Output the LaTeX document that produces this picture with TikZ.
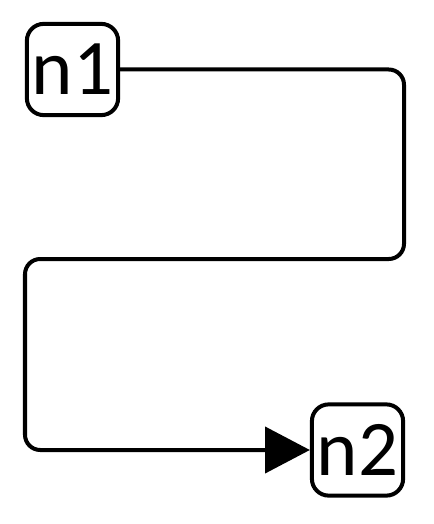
\documentclass[tikz,border=0pt]{standalone}
\usepackage{fontspec}
\setmainfont{Carlito}
\usetikzlibrary{arrows.meta}
\begin{document}
\begin{tikzpicture}[
    x=0.025cm, y=-0.025cm,
    box/.style={rectangle, draw=black, line width=0.1cm, rounded corners=0.42cm, minimum width=2.28cm, minimum height=2.28cm, inner sep=0pt, align=center, font=\fontsize{56}{62}\selectfont},
    arrow/.style={-{Triangle[length=1.12cm,width=1.15cm]}, line width=0.1cm, rounded corners=0.38cm}
]
\useasboundingbox (0,0) rectangle (433,524);

% Nodes
\node[box] (n1) at (72.5,69.5) {n1};
\node[box] (n2) at (357.5,450) {n2};

% Turning points
\coordinate (turnR) at (404,259);
\coordinate (turnL) at (25,259);

% Connector
\draw[arrow] (n1.east) -| (turnR) -- (turnL) |- (n2.west);

\end{tikzpicture}
\end{document}
